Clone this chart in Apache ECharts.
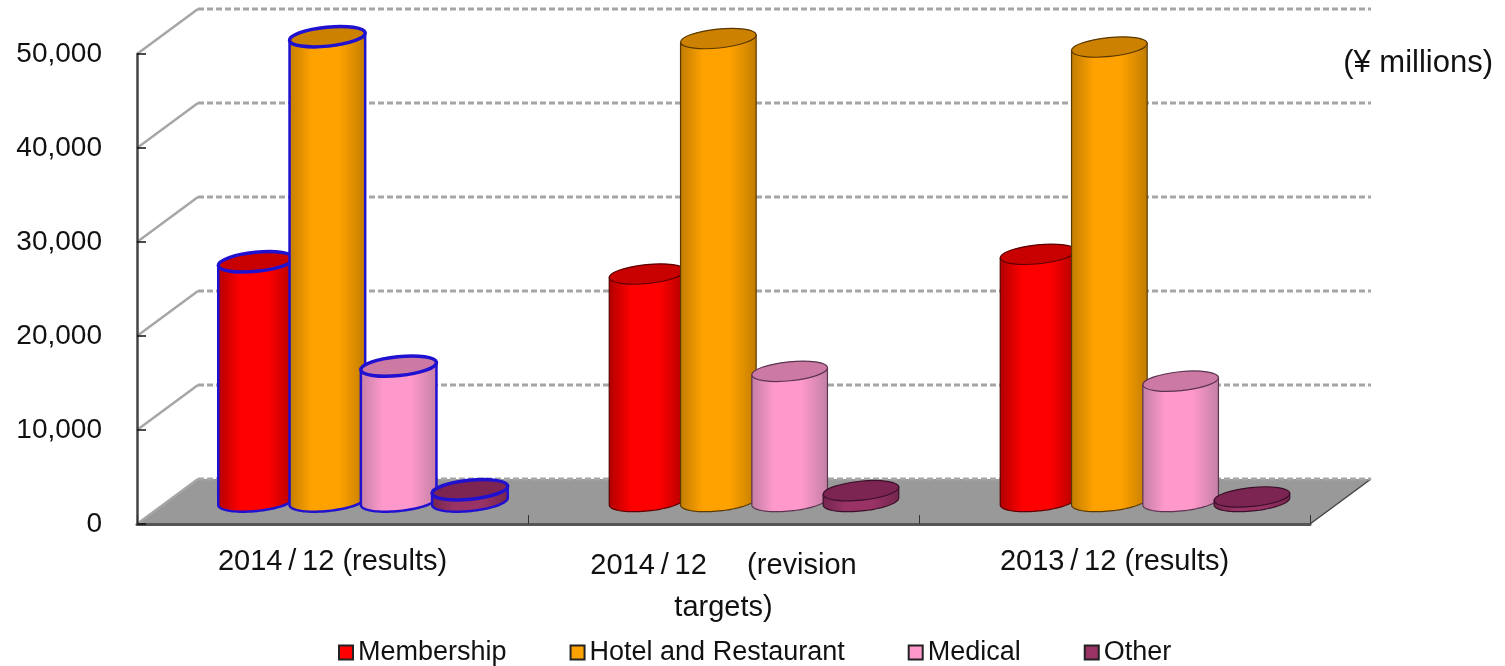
<!DOCTYPE html>
<html>
<head>
<meta charset="utf-8">
<style>html,body{margin:0;padding:0;background:#fff}#chart{width:1505px;height:666px}</style>
<script src="https://cdn.jsdelivr.net/npm/echarts@6/dist/echarts.min.js"></script>
</head>
<body>
<div id="chart"></div>
<script>
const categories = ['2014\u2009/\u200912 (results)', '2014\u2009/\u200912     (revision\ntargets)', '2013\u2009/\u200912 (results)'];
const seriesNames = ['Membership', 'Hotel and Restaurant', 'Medical', 'Other'];
const membership = [25500, 24200, 26300];
const hotelRestaurant = [49450, 49250, 48350];
const medical = [14400, 13850, 12800];
const other = [1250, 1150, 480];
const wallTicks = [0, 10000, 20000, 30000, 40000, 50000];
const unitLabel = '(¥ millions)';
const selectedCategory = 0;

const FONT = '"Liberation Sans", "Noto Sans CJK JP", Arial, sans-serif';
const DEPTH_X = 61, DEPTH_Y = -45;
const STEP = 71.3, RX = 38, RY = 9.5, TILT = 0.1;
const palette = [
  {edge:'#b00000', mid:'#ff0000', top:'#c80000', line:'#5a0000', swatch:'#ff0000'},
  {edge:'#c07c00', mid:'#ffa200', top:'#cc8200', line:'#5a3800', swatch:'#ffa200'},
  {edge:'#c27fa4', mid:'#ff99cc', top:'#cc7aa4', line:'#5a3450', swatch:'#ff99cc'},
  {edge:'#74264e', mid:'#993366', top:'#7c2452', line:'#3a1028', swatch:'#993366'}
];

function cylinder(sIdx) {
  return function (params, api) {
    const cat = api.value(0), val = api.value(1);
    const base = api.coord([cat, 0]), top = api.coord([cat, val]);
    const cx = base[0] + DEPTH_X / 2 + (sIdx - 1.5) * STEP;
    const yb = base[1] + DEPTH_Y / 2, yt = top[1] + DEPTH_Y / 2;
    const c = palette[sIdx];
    const sel = cat === selectedCategory;
    const stroke = sel ? '#2010d0' : c.line;
    const lw = sel ? 2.5 : 1.2;
    const cos = Math.cos(TILT), sin = Math.sin(TILT);
    const pts = [[cx - RX * cos, yt + RX * sin]];
    for (let i = 0; i <= 40; i++) {
      const t = Math.PI - Math.PI * i / 40;
      const a = RX * Math.cos(t), b = RY * Math.sin(t);
      pts.push([cx + a * cos + b * sin, yb - a * sin + b * cos]);
    }
    pts.push([cx + RX * cos, yt - RX * sin]);
    return {
      type: 'group',
      children: [
        {
          type: 'polygon',
          shape: {points: pts},
          style: {
            fill: new echarts.graphic.LinearGradient(0, 0, 1, 0, [
              {offset: 0, color: c.edge}, {offset: 0.3, color: c.mid},
              {offset: 0.65, color: c.mid}, {offset: 1, color: c.edge}
            ]),
            stroke: stroke, lineWidth: lw
          }
        },
        {
          type: 'ellipse',
          x: cx, y: yt, rotation: TILT,
          shape: {cx: 0, cy: 0, rx: RX, ry: RY},
          style: {fill: c.top, stroke: stroke, lineWidth: sel ? 3.5 : 1.2}
        }
      ]
    };
  };
}

function wallItem(params, api) {
  const v = api.value(0);
  const first = api.coord([0, v]);
  const size = api.size([1, 0]);
  const x0 = first[0] - size[0] / 2, y0 = first[1];
  const x1 = x0 + size[0] * categories.length;
  return {
    type: 'group',
    children: [
      {type: 'line', shape: {x1: x0, y1: y0, x2: x0 + DEPTH_X, y2: y0 + DEPTH_Y},
       style: {stroke: '#a6a6a6', lineWidth: 2.5}},
      {type: 'line', shape: {x1: x0 + DEPTH_X, y1: y0 + DEPTH_Y, x2: x1 + DEPTH_X, y2: y0 + DEPTH_Y},
       style: {stroke: '#a6a6a6', lineWidth: 3, lineDash: [6, 3]}}
    ]
  };
}

function floorItem(params, api) {
  const first = api.coord([0, 0]);
  const size = api.size([1, 0]);
  const x0 = first[0] - size[0] / 2, y0 = first[1];
  const x1 = x0 + size[0] * categories.length;
  return {
    type: 'group',
    children: [
      {type: 'polygon',
       shape: {points: [[x0, y0], [x0 + DEPTH_X, y0 + DEPTH_Y], [x1 + DEPTH_X, y0 + DEPTH_Y], [x1, y0]]},
       style: {fill: '#999999'}},
      {type: 'line', shape: {x1: x1, y1: y0, x2: x1 + DEPTH_X, y2: y0 + DEPTH_Y},
       style: {stroke: '#444', lineWidth: 1.5}}
    ]
  };
}

const values = [membership, hotelRestaurant, medical, other];
const chart = echarts.init(document.getElementById('chart'), null, {renderer: 'canvas'});
chart.setOption({
  animation: false,
  backgroundColor: '#fff',
  grid: {left: 137, top: 54, width: 1173, height: 470, containLabel: false},
  xAxis: {
    type: 'category', data: categories, z: 3,
    axisLine: {lineStyle: {color: '#555', width: 3}},
    axisTick: {show: true, inside: true, length: 9, lineStyle: {color: '#333', width: 1}},
    axisLabel: {
      interval: 0, margin: 21, color: '#111',
      formatter: v => {
        const lines = v.split('\n');
        return lines.map(s => (lines.length > 1 ? '{b|' : '{a|') + s + '}').join('\n');
      },
      rich: {
        a: {fontFamily: FONT, fontSize: 29, lineHeight: 34, color: '#111'},
        b: {fontFamily: FONT, fontSize: 29, lineHeight: 42, color: '#111'}
      }
    }
  },
  yAxis: {
    type: 'value', min: 0, max: 50000, interval: 10000, z: 3,
    axisLine: {show: true, lineStyle: {color: '#444', width: 2.5}},
    axisTick: {show: true, inside: true, length: 9, lineStyle: {color: '#111', width: 1.5}},
    axisLabel: {margin: 35, color: '#111', fontFamily: FONT, fontSize: 28},
    splitLine: {show: false}
  },
  legend: {
    left: 338, top: 639, padding: 0, itemGap: 63, itemWidth: 14, itemHeight: 14,
    icon: 'rect', selectedMode: false,
    data: seriesNames.map((n, i) => ({name: n, itemStyle: {color: palette[i].swatch, borderColor: '#222', borderWidth: 2}})),
    textStyle: {fontFamily: FONT, fontSize: 27, color: '#111'}
  },
  graphic: [{
    type: 'text', right: 12, top: 48, silent: true,
    style: {text: unitLabel, fontFamily: FONT, fontSize: 31, fill: '#111'}
  }],
  series: [
    {type: 'custom', z: 0, silent: true, coordinateSystem: 'cartesian2d', renderItem: floorItem,
     data: [[0]], encode: {y: 0}},
    {type: 'custom', z: 1, silent: true, coordinateSystem: 'cartesian2d', renderItem: wallItem,
     data: wallTicks.map(v => [v]), encode: {y: 0}},
    ...seriesNames.map((name, i) => ({
      type: 'custom', name, z: 4, silent: true, coordinateSystem: 'cartesian2d',
      renderItem: cylinder(i),
      itemStyle: {color: palette[i].swatch},
      data: values[i].map((v, k) => [k, v]),
      encode: {x: 0, y: 1}
    }))
  ]
});
</script>
</body>
</html>
